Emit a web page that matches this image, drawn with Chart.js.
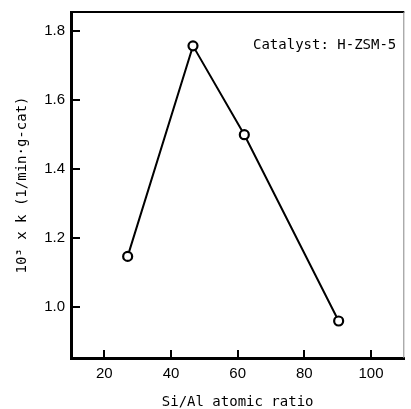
<!DOCTYPE html>
<html>
<head>
<meta charset="utf-8">
<script src="https://cdn.jsdelivr.net/npm/chart.js@4/dist/chart.umd.min.js"></script>
<style>
  html, body { margin: 0; padding: 0; background: #fff; }
  canvas { display: block; }
</style>
</head>
<body>
<canvas id="myChart" width="411" height="409"></canvas>
<script>
// values
const siAlRatio = [27, 46.6, 62, 90.3];
const rateConst = [1.147, 1.756, 1.499, 0.96];
const xTickValues = [20, 40, 60, 80, 100];
const yTickValues = [1.0, 1.2, 1.4, 1.6, 1.8];
const xTitle = "Si/Al atomic ratio";
const yTitle = "10\u00b3 x k (1/min\u00b7g-cat)";
const noteText = "Catalyst: H-ZSM-5";

const monoFont = "'DejaVu Sans Mono', 'Liberation Mono', monospace";
const tickFont = "'Liberation Sans', Arial, sans-serif";

// frame, ticks pointing into the plot, and the note text
const frameAndTicks = {
  id: "frameAndTicks",
  afterDatasetsDraw(chart) {
    const c = chart.ctx;
    const area = chart.chartArea;
    const xs = chart.scales.x;
    const ys = chart.scales.y;
    c.save();
    // top border
    c.strokeStyle = "#000";
    c.lineWidth = 2;
    c.beginPath();
    c.moveTo(area.left, area.top);
    c.lineTo(area.right, area.top);
    c.stroke();
    // faint right border
    c.strokeStyle = "#888";
    c.lineWidth = 1;
    c.beginPath();
    c.moveTo(area.right - 0.5, area.top);
    c.lineTo(area.right - 0.5, area.bottom);
    c.stroke();
    // inward ticks
    c.strokeStyle = "#000";
    c.lineWidth = 2;
    c.beginPath();
    xTickValues.forEach((v) => {
      const px = Math.round(xs.getPixelForValue(v));
      c.moveTo(px, area.bottom);
      c.lineTo(px, area.bottom - 8);
    });
    yTickValues.forEach((v) => {
      const py = Math.round(ys.getPixelForValue(v));
      c.moveTo(area.left, py);
      c.lineTo(area.left + 9, py);
    });
    c.stroke();

    c.fillStyle = "#000";
    c.font = "14px " + monoFont;
    c.textAlign = "right";
    c.textBaseline = "middle";
    c.fillText(noteText, area.right - 8, 45);
    c.restore();
  },
};

const ctx = document.getElementById("myChart").getContext("2d");
const chart = new Chart(ctx, {
  type: "scatter",
  data: {
    datasets: [
      {
        data: siAlRatio.map((x, i) => ({ x: x, y: rateConst[i] })),
        showLine: true,
        borderColor: "#000",
        borderWidth: 2,
        pointRadius: 4.5,
        pointBorderWidth: 2.2,
        pointBackgroundColor: "#fff",
        pointBorderColor: "#000",
      },
    ],
  },
  options: {
    responsive: false,
    animation: false,
    layout: { padding: { top: 12, right: -6, left: 0, bottom: 0 } },
    plugins: { legend: { display: false }, tooltip: { enabled: false } },
    scales: {
      x: {
        type: "linear",
        min: 10,
        max: 110,
        afterBuildTicks: (s) => { s.ticks = xTickValues.map((v) => ({ value: v })); },
        afterFit: (s) => { s.height = 51; s.paddingLeft = 0; s.paddingRight = 0; },
        grid: { display: false, drawTicks: false },
        border: { display: true, color: "#000", width: 3 },
        ticks: {
          color: "#000",
          padding: 7,
          maxRotation: 0,
          font: { family: tickFont, size: 15 },
        },
        title: {
          display: true,
          text: xTitle,
          color: "#000",
          padding: { top: 0, bottom: -2 },
          font: { family: monoFont, size: 14 },
        },
      },
      y: {
        type: "linear",
        min: 0.853,
        max: 1.854,
        afterBuildTicks: (s) => { s.ticks = yTickValues.map((v) => ({ value: v })); },
        afterFit: (s) => { s.width = 71; s.paddingTop = 0; s.paddingBottom = 0; },
        grid: { display: false, drawTicks: false },
        border: { display: true, color: "#000", width: 3 },
        ticks: {
          color: "#000",
          padding: 6,
          font: { family: tickFont, size: 15 },
          callback: (v) => Number(v).toFixed(1),
        },
        title: {
          display: true,
          text: yTitle,
          color: "#000",
          padding: { top: 14, bottom: 0 },
          font: { family: monoFont, size: 14 },
        },
      },
    },
  },
  plugins: [frameAndTicks],
});
</script>
</body>
</html>
